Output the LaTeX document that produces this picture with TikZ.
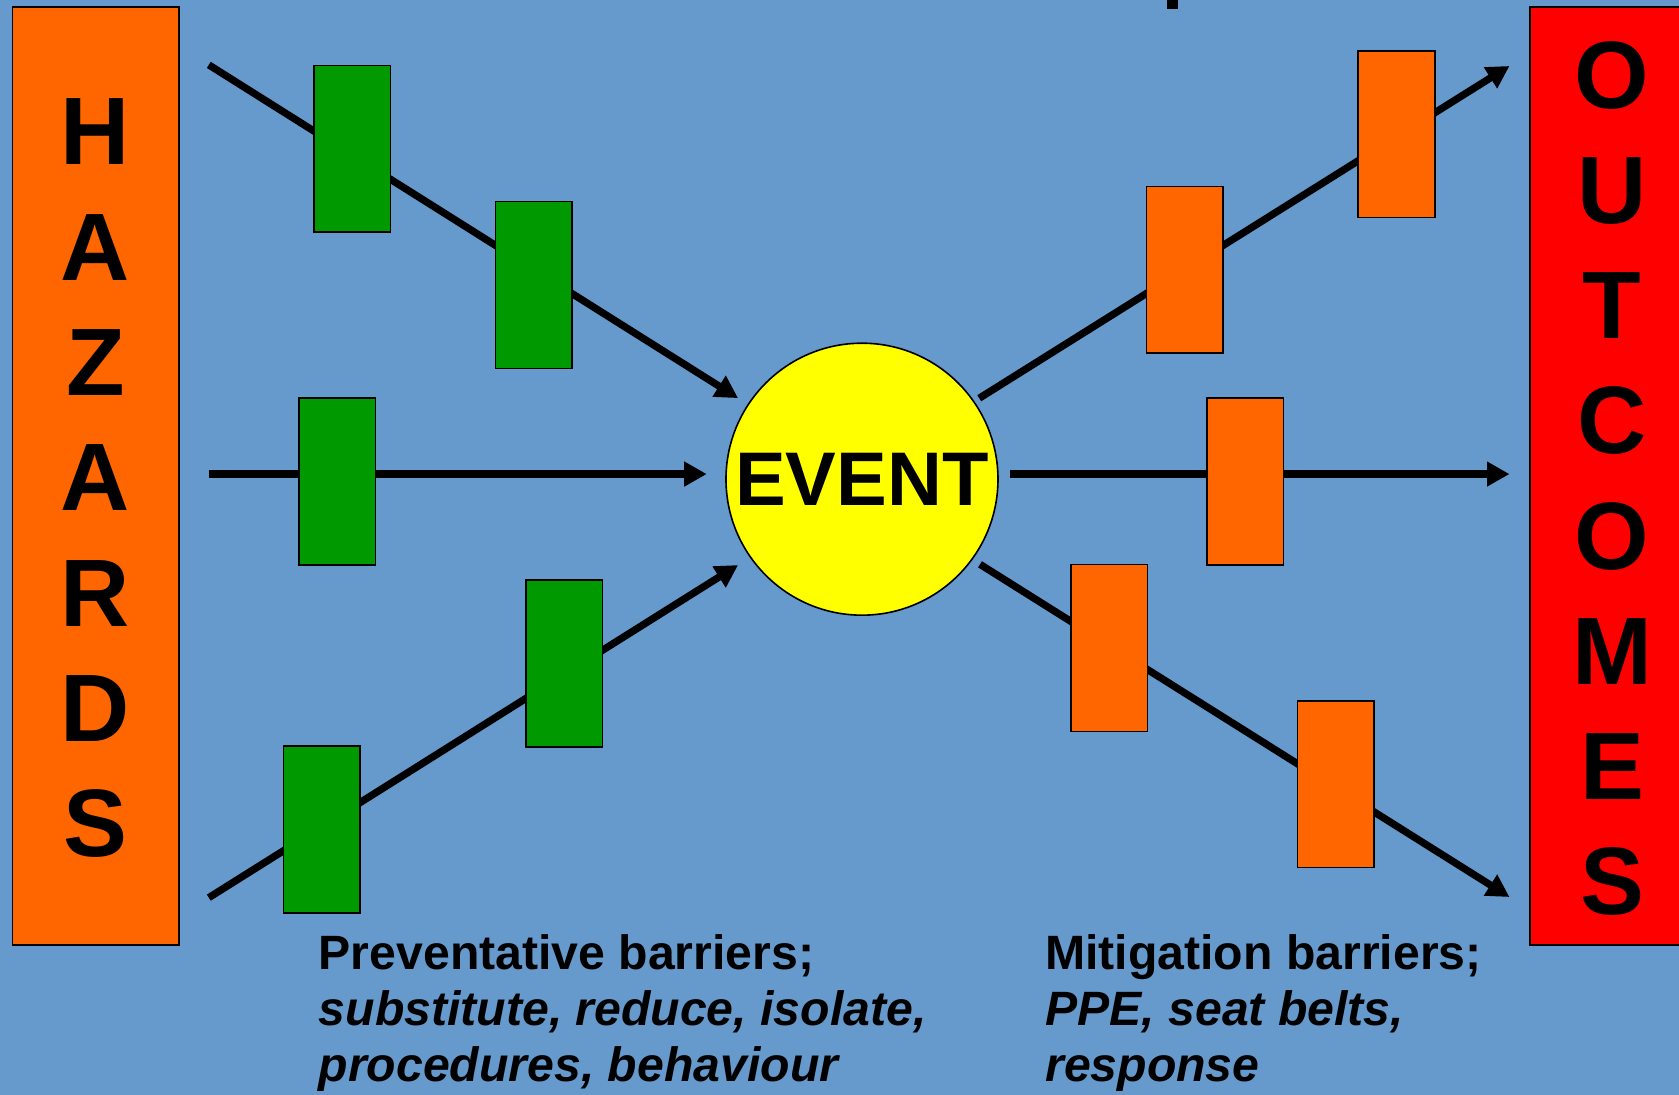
\documentclass[tikz,border=0pt]{standalone}
\usepackage{fontspec}
\setmainfont{Liberation Sans}
\usetikzlibrary{arrows.meta}
\definecolor{bg}{RGB}{102,153,204}
\definecolor{grn}{RGB}{0,153,0}
\definecolor{org}{RGB}{255,102,0}
\definecolor{rd}{RGB}{255,0,0}
\definecolor{ylw}{RGB}{255,255,0}
\begin{document}
\begin{tikzpicture}[x=1pt,y=-1pt,
  barrier/.style={draw=black, line width=1.5pt, minimum width=71.5pt, minimum height=155.7pt, inner sep=0pt},
  gbar/.style={barrier, fill=grn},
  obar/.style={barrier, fill=org},
  flow/.style={line width=6.8pt, -{Triangle[length=21pt,width=22pt]}},
  bigletter/.style={font=\fontsize{89.5}{90}\selectfont\bfseries, inner sep=0pt, anchor=base},
  caption/.style={font=\fontsize{45}{52}\selectfont\bfseries, inner sep=0pt, anchor=base west},
  column/.style={draw=black, line width=1.5pt, anchor=north west, inner sep=0pt, minimum height=876pt},
]
\fill[bg] (0,0) rectangle (1568,1022.6);
\useasboundingbox (0,0) rectangle (1568,1022.6);
\clip (0,0) rectangle (1568,1022.6);
% top mark (cropped title)
\fill[black] (1090,0) rectangle (1100,8.2);
% side columns
\node[column, fill=org, minimum width=155.6pt] (hazards) at (11,6) {};
\node[column, fill=rd, minimum width=170pt] (outcomes) at (1428,6) {};
\foreach \l [count=\i from 0] in {H,A,Z,A,R,D,S}
  \node[bigletter] (hz\i) at (89,154+107.7*\i) {\l};
\foreach \l [count=\i from 0] in {O,U,T,C,O,M,E,S}
  \node[bigletter] (oc\i) at (1505.5,101+107.6*\i) {\l};
% arrow end coordinates
\coordinate (l1s) at (195,60.6);   \coordinate (l1e) at (689.3,371.8);
\coordinate (l2s) at (195,442.7);  \coordinate (l2e) at (660,442.7);
\coordinate (l3s) at (195,838.3);  \coordinate (l3e) at (689.3,527.7);
\coordinate (r1s) at (914.5,371.9); \coordinate (r1e) at (1409.7,61.6);
\coordinate (r2s) at (943.6,442.7); \coordinate (r2e) at (1409.7,442.7);
\coordinate (r3s) at (915.2,527);   \coordinate (r3e) at (1409.7,837.7);
\draw[flow] (l1s) -- (l1e);
\draw[flow] (l2s) -- (l2e);
\draw[flow] (l3s) -- (l3e);
\draw[flow] (r1s) -- (r1e);
\draw[flow] (r2s) -- (r2e);
\draw[flow] (r3s) -- (r3e);
% barriers
\node[gbar] (g1) at (328.9,139) {};
\node[gbar] (g2) at (498.5,266.2) {};
\node[gbar] (g3) at (314.9,449.8) {};
\node[gbar] (g4) at (527,619.6) {};
\node[gbar] (g5) at (300.5,774.6) {};
\node[obar] (o1) at (1106.4,252) {};
\node[obar] (o2) at (1304.2,125.2) {};
\node[obar] (o3) at (1162.8,449.8) {};
\node[obar] (o4) at (1035.9,605.2) {};
\node[obar] (o5) at (1247.5,732.4) {};
% event
\node[circle, draw=black, line width=1.5pt, fill=ylw, minimum size=254pt, inner sep=0pt,
      font=\fontsize{71}{72}\selectfont\bfseries] (event) at (805,447.5) {EVENT};
% captions
\node[caption] (p1) at (297.5,905.5) {Preventative barriers;};
\node[caption] (p2) at (297.5,958) {\itshape substitute, reduce, isolate,};
\node[caption] (p3) at (297.5,1010) {\itshape procedures, behaviour};
\node[caption] (m1) at (976,905.5) {Mitigation barriers;};
\node[caption] (m2) at (976,958) {\itshape PPE, seat belts,};
\node[caption] (m3) at (976,1010) {\itshape response};
\end{tikzpicture}
\end{document}
